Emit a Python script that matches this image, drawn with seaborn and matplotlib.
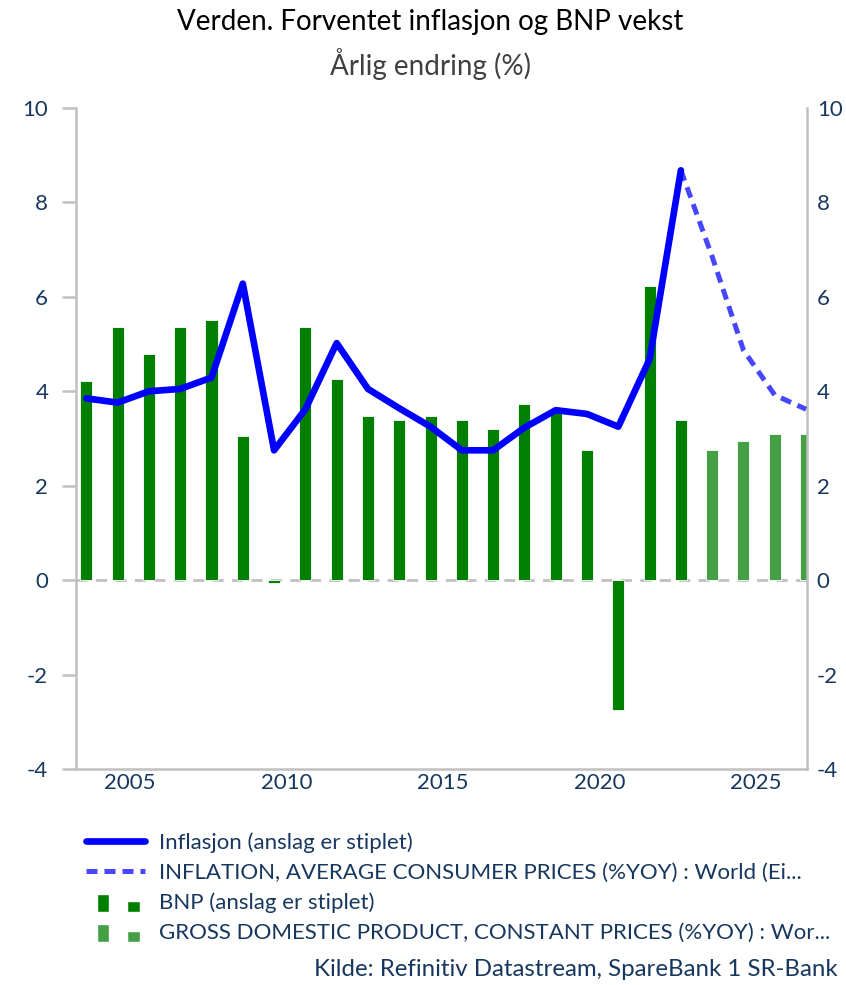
import numpy as np
import pandas as pd
import matplotlib
matplotlib.use("Agg")
import matplotlib.pyplot as plt
import seaborn as sns
from matplotlib.legend_handler import HandlerBase
from matplotlib.patches import Rectangle
from matplotlib.lines import Line2D

sns.set_theme(style="white")
plt.rcParams["font.family"] = ["Lato", "DejaVu Sans"]
plt.rcParams["axes.unicode_minus"] = False

# data
years = list(range(2003, 2027))
gdp = [4.22, 5.36, 4.79, 5.36, 5.51, 3.05, -0.07, 5.36, 4.25, 3.48, 3.39, 3.48,
       3.39, 3.20, 3.73, 3.58, 2.76, -2.75, 6.23, 3.39, 2.76, 2.95, 3.09, 3.09]
gdp_type = ["Faktisk"] * 20 + ["Anslag"] * 4
infl_years = list(range(2003, 2023))
infl = [3.85, 3.76, 4.00, 4.05, 4.29, 6.28, 2.75, 3.62, 5.02, 4.05, 3.64, 3.25,
        2.75, 2.75, 3.23, 3.60, 3.52, 3.25, 4.68, 8.68]
infl_fc_years = [2022, 2023, 2024, 2025, 2026]
infl_fc = [8.68, 6.85, 4.87, 3.92, 3.62]

legend_labels = ["Inflasjon (anslag er stiplet)",
                 "INFLATION, AVERAGE CONSUMER PRICES (%YOY) : World (Ei...",
                 "BNP (anslag er stiplet)",
                 "GROSS DOMESTIC PRODUCT, CONSTANT PRICES (%YOY) : Wor..."]

navy = "#17375e"
grey = "#c0c0c0"
dark_green = "#008000"
light_green = "#45a045"
blue = "#0000ff"
blue_fc = "#4646ff"

# bars sit a bit into the year on the date axis
shift = 0.6
bars = pd.DataFrame({"x": np.array(years) + shift, "gdp": gdp, "type": gdp_type})
line = pd.DataFrame({"x": np.array(infl_years) + shift, "v": infl})
line_fc = pd.DataFrame({"x": np.array(infl_fc_years) + shift, "v": infl_fc})

fig = plt.figure(figsize=(8.46, 9.85), dpi=100)
ax = fig.add_axes([76 / 846, 1 - 769 / 985, (807 - 76) / 846, (769 - 108) / 985])

ax.axhline(0, color=grey, lw=2, ls=(0, (4, 3)), zorder=0)
sns.barplot(data=bars, x="x", y="gdp", hue="type", native_scale=True,
            palette={"Faktisk": dark_green, "Anslag": light_green},
            dodge=False, width=0.385, saturation=1, legend=False, ax=ax,
            edgecolor="white", linewidth=0.6, zorder=2)
sns.lineplot(data=line_fc, x="x", y="v", color=blue_fc, lw=3.6, ax=ax,
             linestyle=(0, (2.2, 1.4)), zorder=3)
sns.lineplot(data=line, x="x", y="v", color=blue, lw=4.8, ax=ax, zorder=4)

ax.set_xlim(2003.27, 2026.63)
ax.set_ylim(-4, 10)
ax.set_xticks([2005, 2010, 2015, 2020, 2025])
ax.set_xticklabels(["2005", "2010", "2015", "2020", "2025"])
ax.set_yticks(range(-4, 11, 2))
ax.set_xlabel("")
ax.set_ylabel("")

for s in ["left", "right", "bottom"]:
    ax.spines[s].set_color(grey)
    ax.spines[s].set_linewidth(1.8)
ax.spines["top"].set_visible(False)
ax.tick_params(axis="y", left=True, length=10, width=1.8, color=grey,
               labelsize=16, labelcolor=navy, pad=10)
ax.tick_params(axis="x", bottom=False, length=0, labelsize=16,
               labelcolor=navy, pad=3)

ax2 = ax.twinx()
ax2.set_ylim(-4, 10)
ax2.set_yticks(range(-4, 11, 2))
ax2.tick_params(axis="y", right=False, length=0, labelsize=16,
                labelcolor=navy, pad=7)
for s in ax2.spines.values():
    s.set_visible(False)
ax2.grid(False)
ax.grid(False)

fig.text(430 / 846, 1 - 22 / 985, "Verden. Forventet inflasjon og BNP vekst",
         ha="center", va="center", fontsize=20, color="black")
fig.text(430 / 846, 1 - 64 / 985, "Årlig endring (%)",
         ha="center", va="center", fontsize=20, color="#404040")


class TwoBars(HandlerBase):
    # excel-style legend key: a tall and a short bar
    def create_artists(self, legend, orig_handle, xdescent, ydescent,
                       width, height, fontsize, trans):
        c = orig_handle.get_facecolor()
        w = width * 0.21
        y0 = -ydescent - height * 0.2
        r1 = Rectangle((xdescent + width * 0.18, y0), w, height * 1.2,
                       facecolor=c, transform=trans)
        r2 = Rectangle((xdescent + width * 0.7, y0), w, height * 0.75,
                       facecolor=c, transform=trans)
        return [r1, r2]


handles = [Line2D([], [], color=blue, lw=4.8),
           Line2D([], [], color=blue_fc, lw=3.6, ls=(0, (2.2, 1.4))),
           Rectangle((0, 0), 1, 1, facecolor=dark_green),
           Rectangle((0, 0), 1, 1, facecolor=light_green)]
leg = fig.legend(handles, legend_labels, loc="upper left",
                 bbox_to_anchor=(86 / 846, 1 - 832 / 985), frameon=False,
                 fontsize=16, handlelength=2.65, handletextpad=0.64,
                 labelspacing=0.45, borderaxespad=0, borderpad=0,
                 handler_map={Rectangle: TwoBars()})
for t in leg.get_texts():
    t.set_color(navy)

fig.text(838 / 846, 1 - 970 / 985, "Kilde: Refinitiv Datastream, SpareBank 1 SR-Bank",
         ha="right", va="center", fontsize=17.3, color=navy)

fig.savefig("out.png", dpi=100)
